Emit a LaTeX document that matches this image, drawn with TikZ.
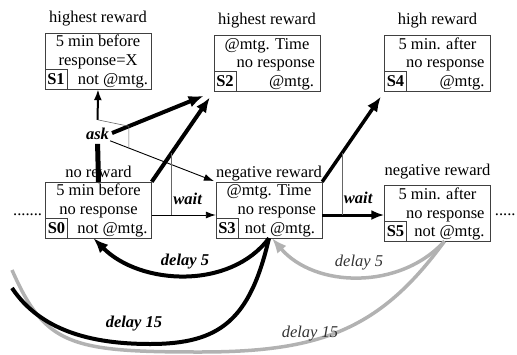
\documentclass[tikz,border=0pt]{standalone}
\usepackage{fontspec}
\setmainfont{Liberation Serif}
\usetikzlibrary{calc,positioning,arrows.meta}
\newcommand\figsize{\fontsize{16.5}{19}\selectfont}
\tikzset{
  state/.style={ % outline of a state
    draw=black!75, rectangle, minimum width=106pt, minimum height=56pt,
    inner sep=0pt
  },
  tag/.style={ % state number in the lower left corner
    draw=black!75, rectangle, minimum width=22pt, minimum height=20pt,
    inner sep=0pt, anchor=south west, font=\figsize\bfseries
  },
  txt/.style={inner sep=0pt, anchor=base},
  rtxt/.style={inner sep=0pt, anchor=base east},
  act/.style={font=\figsize\bfseries\itshape, inner sep=1pt},
  fat/.style={line width=4pt, -{Latex[length=15pt,width=12pt]}},
  slim/.style={line width=0.9pt, -{Latex[length=10pt,width=7pt]}},
  branch/.style={draw=black!60, line width=0.6pt},
  back/.style={line width=4pt, -{Latex[length=15pt,width=12pt]}},
  greyback/.style={line width=3.5pt, draw=black!30, -{Latex[length=15pt,width=12pt]}}
}
\begin{document}
\begin{tikzpicture}[x=1pt, y=-1pt, font=\figsize]
  \useasboundingbox (0,0) rectangle (517,354);

  % states
  \node[state] (S1) at (98,61) {};
  \node[state] (S2) at (267,63.5) {};
  \node[state] (S4) at (437.5,63.5) {};
  \node[state] (S0) at (98.5,210) {};
  \node[state] (S3) at (269,210) {};
  \node[state] (S5) at (437.5,213) {};

  % rewards
  \node[txt] (r1) at ($(S1.north)+(0,-10)$) {highest reward};
  \node[txt] (r2) at ($(S2.north)+(0,-11)$) {highest reward};
  \node[txt] (r4) at ($(S4.north)+(0,-11)$) {high reward};
  \node[txt] (r0) at ($(S0.north)+(0,-4)$) {no reward};
  \node[txt] (r3) at ($(S3.north)+(0,-4)$) {negative reward};
  \node[txt] (r5) at ($(S5.north)+(0,-9)$) {negative reward};

  % contents
  \node[txt]  (S1a) at ($(S1.south)+(0,-43)$) {5 min before};
  \node[txt]  (S1b) at ($(S1.south)+(0,-24)$) {response=X};
  \node[rtxt] (S1c) at ($(S1.south east)+(-3,-5)$) {not @mtg.};
  \node[tag]  (S1n) at (S1.south west) {S1};

  \node[txt]  (S2a) at ($(S2.south)+(0,-42)$) {@mtg. Time};
  \node[rtxt] (S2b) at ($(S2.south east)+(-5,-24)$) {no response};
  \node[rtxt] (S2c) at ($(S2.south east)+(-6,-5)$) {@mtg.};
  \node[tag]  (S2n) at (S2.south west) {S2};

  \node[txt]  (S4a) at ($(S4.south)+(0,-42)$) {5 min. after};
  \node[rtxt] (S4b) at ($(S4.south east)+(-6,-24)$) {no response};
  \node[rtxt] (S4c) at ($(S4.south east)+(-6,-5)$) {@mtg.};
  \node[tag]  (S4n) at (S4.south west) {S4};

  \node[txt]  (S0a) at ($(S0.south)+(0,-43)$) {5 min before};
  \node[txt]  (S0b) at ($(S0.south)+(0,-24)$) {no response};
  \node[rtxt] (S0c) at ($(S0.south east)+(-4,-5)$) {not @mtg.};
  \node[tag]  (S0n) at (S0.south west) {S0};

  \node[txt]  (S3a) at ($(S3.south)+(0,-43)$) {@mtg. Time};
  \node[rtxt] (S3b) at ($(S3.south east)+(-6,-24)$) {no response};
  \node[rtxt] (S3c) at ($(S3.south east)+(-7,-5)$) {not @mtg.};
  \node[tag]  (S3n) at (S3.south west) {S3};

  \node[txt]  (S5a) at ($(S5.south)+(0,-42)$) {5 min. after};
  \node[rtxt] (S5b) at ($(S5.south east)+(-6,-23)$) {no response};
  \node[rtxt] (S5c) at ($(S5.south east)+(-6,-5)$) {not @mtg.};
  \node[tag]  (S5n) at (S5.south west) {S5};

  \node[inner sep=0pt, anchor=base east] (more0) at ($(S0.west)+(-3,5)$) {.......};
  \node[inner sep=0pt, anchor=base west] (more5) at ($(S5.east)+(4,2)$) {.....};

  % ask from S0
  \node[act] (ask) at ($(S0.north)+(-1,-48)$) {ask};
  \draw[line width=5pt, shorten >=3pt] (S0.north) -- (ask.south);
  \draw[line width=2pt, -{Latex[length=11pt,width=8pt]}, shorten <=7pt] (ask.north) -- (S1.south);
  \draw[fat, shorten <=2pt, shorten >=11pt] (ask.east) -- (S2.south west);
  \draw[slim, shorten >=2pt] (ask.south east) -- (S3.north west);
  \coordinate (a1) at ($(ask.north)!7pt!(S1.south)$);
  \coordinate (a2) at ($(ask.east)!0.18!(S2.south west)$);
  \coordinate (a2b) at ($(a2)+(0,40)$);
  \coordinate (a3s) at (ask.south east);
  \coordinate (a3e) at (S3.north west);
  \draw[branch] (a1) -- (a2) -- (intersection of a2--a2b and a3s--a3e);

  % wait from S0
  \coordinate (w0) at ([yshift=-5pt]S0.east);
  \draw[fat, shorten >=7pt] (S0.north east) -- (S2.south west);
  \draw[slim] (w0) -- (w0 -| S3.west);
  \coordinate (b0) at ($(S0.north east)!0.32!(S2.south west)$);
  \draw[branch] (b0) -- (b0 |- w0);
  \node[act] (wait0) at ($(w0)+(36,-16)$) {wait};

  % wait from S3
  \coordinate (w3) at ([yshift=-5pt]S3.east);
  \draw[fat, line width=3.5pt, shorten >=6pt] (S3.north east) -- (S4.south west);
  \draw[line width=3pt, -{Latex[length=13pt,width=10pt]}] (w3) -- (w3 -| S5.west);
  \coordinate (b3) at ($(S3.north east)!0.32!(S4.south west)$);
  \draw[branch] (b3) -- (b3 |- w3);
  \node[act] (wait3) at ($(w3)+(36,-17)$) {wait};

  % delays
  \coordinate (d15k) at (12,288);
  \coordinate (d15g) at (12,270);
  \draw[greyback] ([xshift=7pt]S5.south) .. controls +(-44.5,49) and +(43,50) .. ([xshift=3pt]S3.south);
  \draw[line width=3.5pt, draw=black!30] ([xshift=7pt]S5.south) .. controls (380,330) and (320,352) .. (200,352)
    .. controls (70,352) and (45,345) .. (d15g);
  \draw[back] (S3.south) .. controls +(-39,52) and +(46.5,47) .. ([xshift=-5pt]S0.south);
  \draw[line width=4pt] (S3.south) .. controls (250,320) and (220,344) .. (150,344)
    .. controls (90,344) and (40,330) .. (d15k);

  \node[act] (d5k) at (185,262) {delay 5};
  \node[act] (d15kl) at (134,324) {delay 15};
  \node[font=\figsize\itshape, text=black!80] (d5g) at (359,263) {delay 5};
  \node[font=\figsize\itshape, text=black!80] (d15gl) at (310,334) {delay 15};
\end{tikzpicture}
\end{document}
